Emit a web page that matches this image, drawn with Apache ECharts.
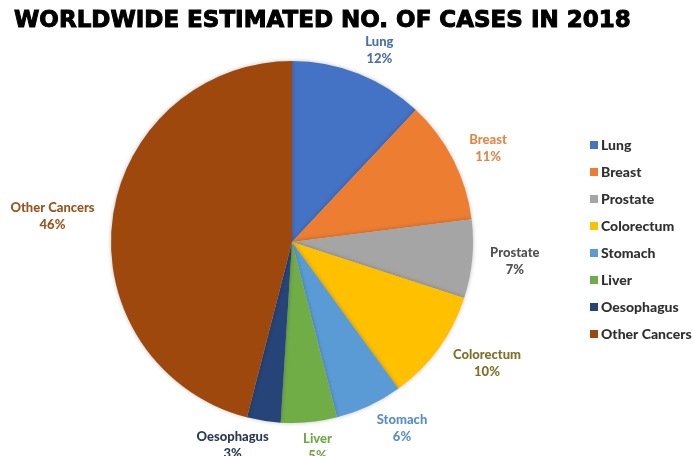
<!DOCTYPE html>
<html>
<head>
<meta charset="utf-8">
<script src="https://cdn.jsdelivr.net/npm/echarts@6/dist/echarts.min.js"></script>
<style>
html, body { margin: 0; padding: 0; background: #fff; }
#chart { width: 693px; height: 456px; }
</style>
</head>
<body>
<div id="chart"></div>
<script>
var categories = ['Lung', 'Breast', 'Prostate', 'Colorectum', 'Stomach', 'Liver', 'Oesophagus', 'Other Cancers'];
var shares = [12, 11, 7, 10, 6, 5, 3, 46];
var sliceColors = ['#4472C4', '#ED7D31', '#A5A5A5', '#FFC000', '#5B9BD5', '#70AD47', '#264478', '#9E480E'];
var labelColors = ['#4a6fad', '#e0884a', '#505050', '#80702a', '#5b8fc8', '#6fa848', '#2b3a5c', '#9a5520'];

var cx = 292, cy = 242, R = 181;
var total = shares.reduce(function (a, b) { return a + b; }, 0);

// mid angle of each slice (radians), start at 12 o'clock, clockwise
var midAngles = [];
var acc = 0;
for (var i = 0; i < shares.length; i++) {
	var mid = acc + shares[i] / 2;
	midAngles.push(Math.PI / 2 - mid / total * 2 * Math.PI);
	acc += shares[i];
}

function clamp(v) { return Math.max(-1, Math.min(1, v)); }

var chart = echarts.init(document.getElementById('chart'));
chart.setOption({
	title: {
		text: 'WORLDWIDE ESTIMATED NO. OF CASES IN 2018',
		left: 9,
		top: 5,
		textStyle: {
			fontFamily: 'DejaVu Sans',
			fontSize: 23,
			fontWeight: 'bold',
			color: '#000',
			textBorderColor: '#000',
			textBorderWidth: 1
		}
	},
	legend: {
		orient: 'vertical',
		left: 585,
		top: 133,
		itemWidth: 8,
		itemHeight: 8,
		itemGap: 13,
		icon: 'rect',
		data: categories,
		textStyle: {
			fontFamily: 'Lato',
			fontWeight: 900,
			fontSize: 14,
			lineHeight: 14,
			color: '#303030',
			padding: [0, 0, 0, -2]
		}
	},
	series: [{
		type: 'pie',
		center: [cx, cy],
		radius: R,
		startAngle: 90,
		clockwise: true,
		animation: false,
		label: {
			show: true,
			position: 'outside',
			alignTo: 'none',
			overflow: 'none',
			fontFamily: 'Lato',
			fontWeight: 900,
			fontSize: 13,
			lineHeight: 17,
			formatter: function (p) { return p.name + '\n' + p.value + '%'; }
		},
		labelLine: { show: false },
		labelLayout: function (p) {
			var a = midAngles[p.dataIndex];
			var w = p.labelRect.width, h = p.labelRect.height;
			var ax = cx + (R + 18) * Math.cos(a);
			var ay = cy - (R + 8) * Math.sin(a);
			return {
				x: ax + clamp(Math.cos(a) * 5) * w / 2,
				y: ay - Math.sin(a) * h / 2,
				align: 'center',
				verticalAlign: 'middle'
			};
		},
		itemStyle: {
			shadowBlur: 4,
			shadowColor: 'rgba(0,0,0,0.25)'
		},
		data: categories.map(function (c, i) {
			return {
				name: c,
				value: shares[i],
				itemStyle: { color: sliceColors[i] },
				label: { color: labelColors[i] }
			};
		})
	}]
});
</script>
</body>
</html>
